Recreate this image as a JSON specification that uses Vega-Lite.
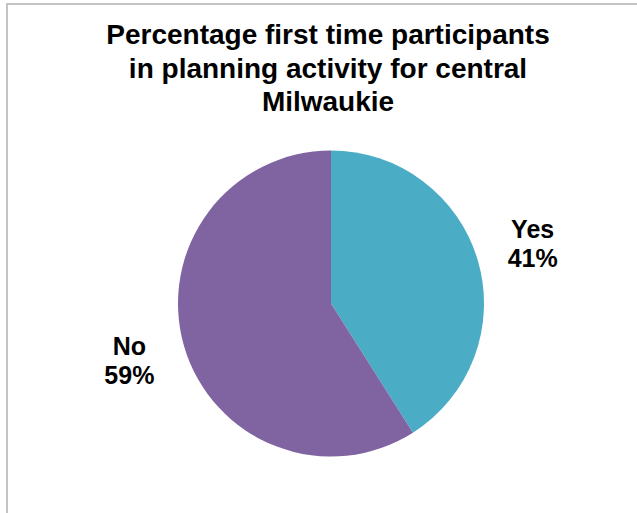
{
  "$schema": "https://vega.github.io/schema/vega-lite/v6.json",
  "autosize": "none",
  "width": 648,
  "height": 599,
  "padding": {"left": 7, "top": 4, "right": 0, "bottom": 0},
  "background": "white",
  "config": {
    "view": {"stroke": null},
    "font": "Liberation Sans"
  },
  "title": {
    "text": ["Percentage first time participants", "in planning activity for central", "Milwaukie"],
    "orient": "top",
    "anchor": "middle",
    "frame": "group",
    "offset": -142,
    "dx": -3,
    "fontSize": 28,
    "fontWeight": "bold",
    "font": "Liberation Sans",
    "color": "#000000",
    "lineHeight": 33.5,
    "baseline": "bottom"
  },
  "data": {
    "values": [
      {"answer": "Yes", "share": 0.41},
      {"answer": "No", "share": 0.59}
    ]
  },
  "layer": [
    {
      "mark": {"type": "rect", "fillOpacity": 0, "stroke": "#C4C4C4", "strokeWidth": 2},
      "encoding": {}
    },
    {
      "mark": {"type": "arc", "outerRadius": 153},
      "encoding": {
        "theta": {"field": "share", "type": "quantitative", "stack": true},
        "order": {"field": "share", "type": "quantitative", "sort": "ascending"},
        "color": {
          "field": "answer",
          "type": "nominal",
          "scale": {"domain": ["Yes", "No"], "range": ["#4BACC6", "#8064A2"]},
          "legend": null
        }
      }
    },
    {
      "mark": {"type": "text", "radius": 210, "dy": -15, "fontSize": 25, "fontWeight": "bold", "font": "Liberation Sans", "color": "#000000"},
      "encoding": {
        "theta": {"field": "share", "type": "quantitative", "stack": true},
        "order": {"field": "share", "type": "quantitative", "sort": "ascending"},
        "detail": {"field": "answer", "type": "nominal"},
        "text": {"field": "answer", "type": "nominal"}
      }
    },
    {
      "mark": {"type": "text", "radius": 210, "dy": 14, "fontSize": 25, "fontWeight": "bold", "font": "Liberation Sans", "color": "#000000"},
      "encoding": {
        "theta": {"field": "share", "type": "quantitative", "stack": true},
        "order": {"field": "share", "type": "quantitative", "sort": "ascending"},
        "detail": {"field": "answer", "type": "nominal"},
        "text": {"field": "share", "type": "quantitative", "format": ".0%"}
      }
    }
  ]
}
